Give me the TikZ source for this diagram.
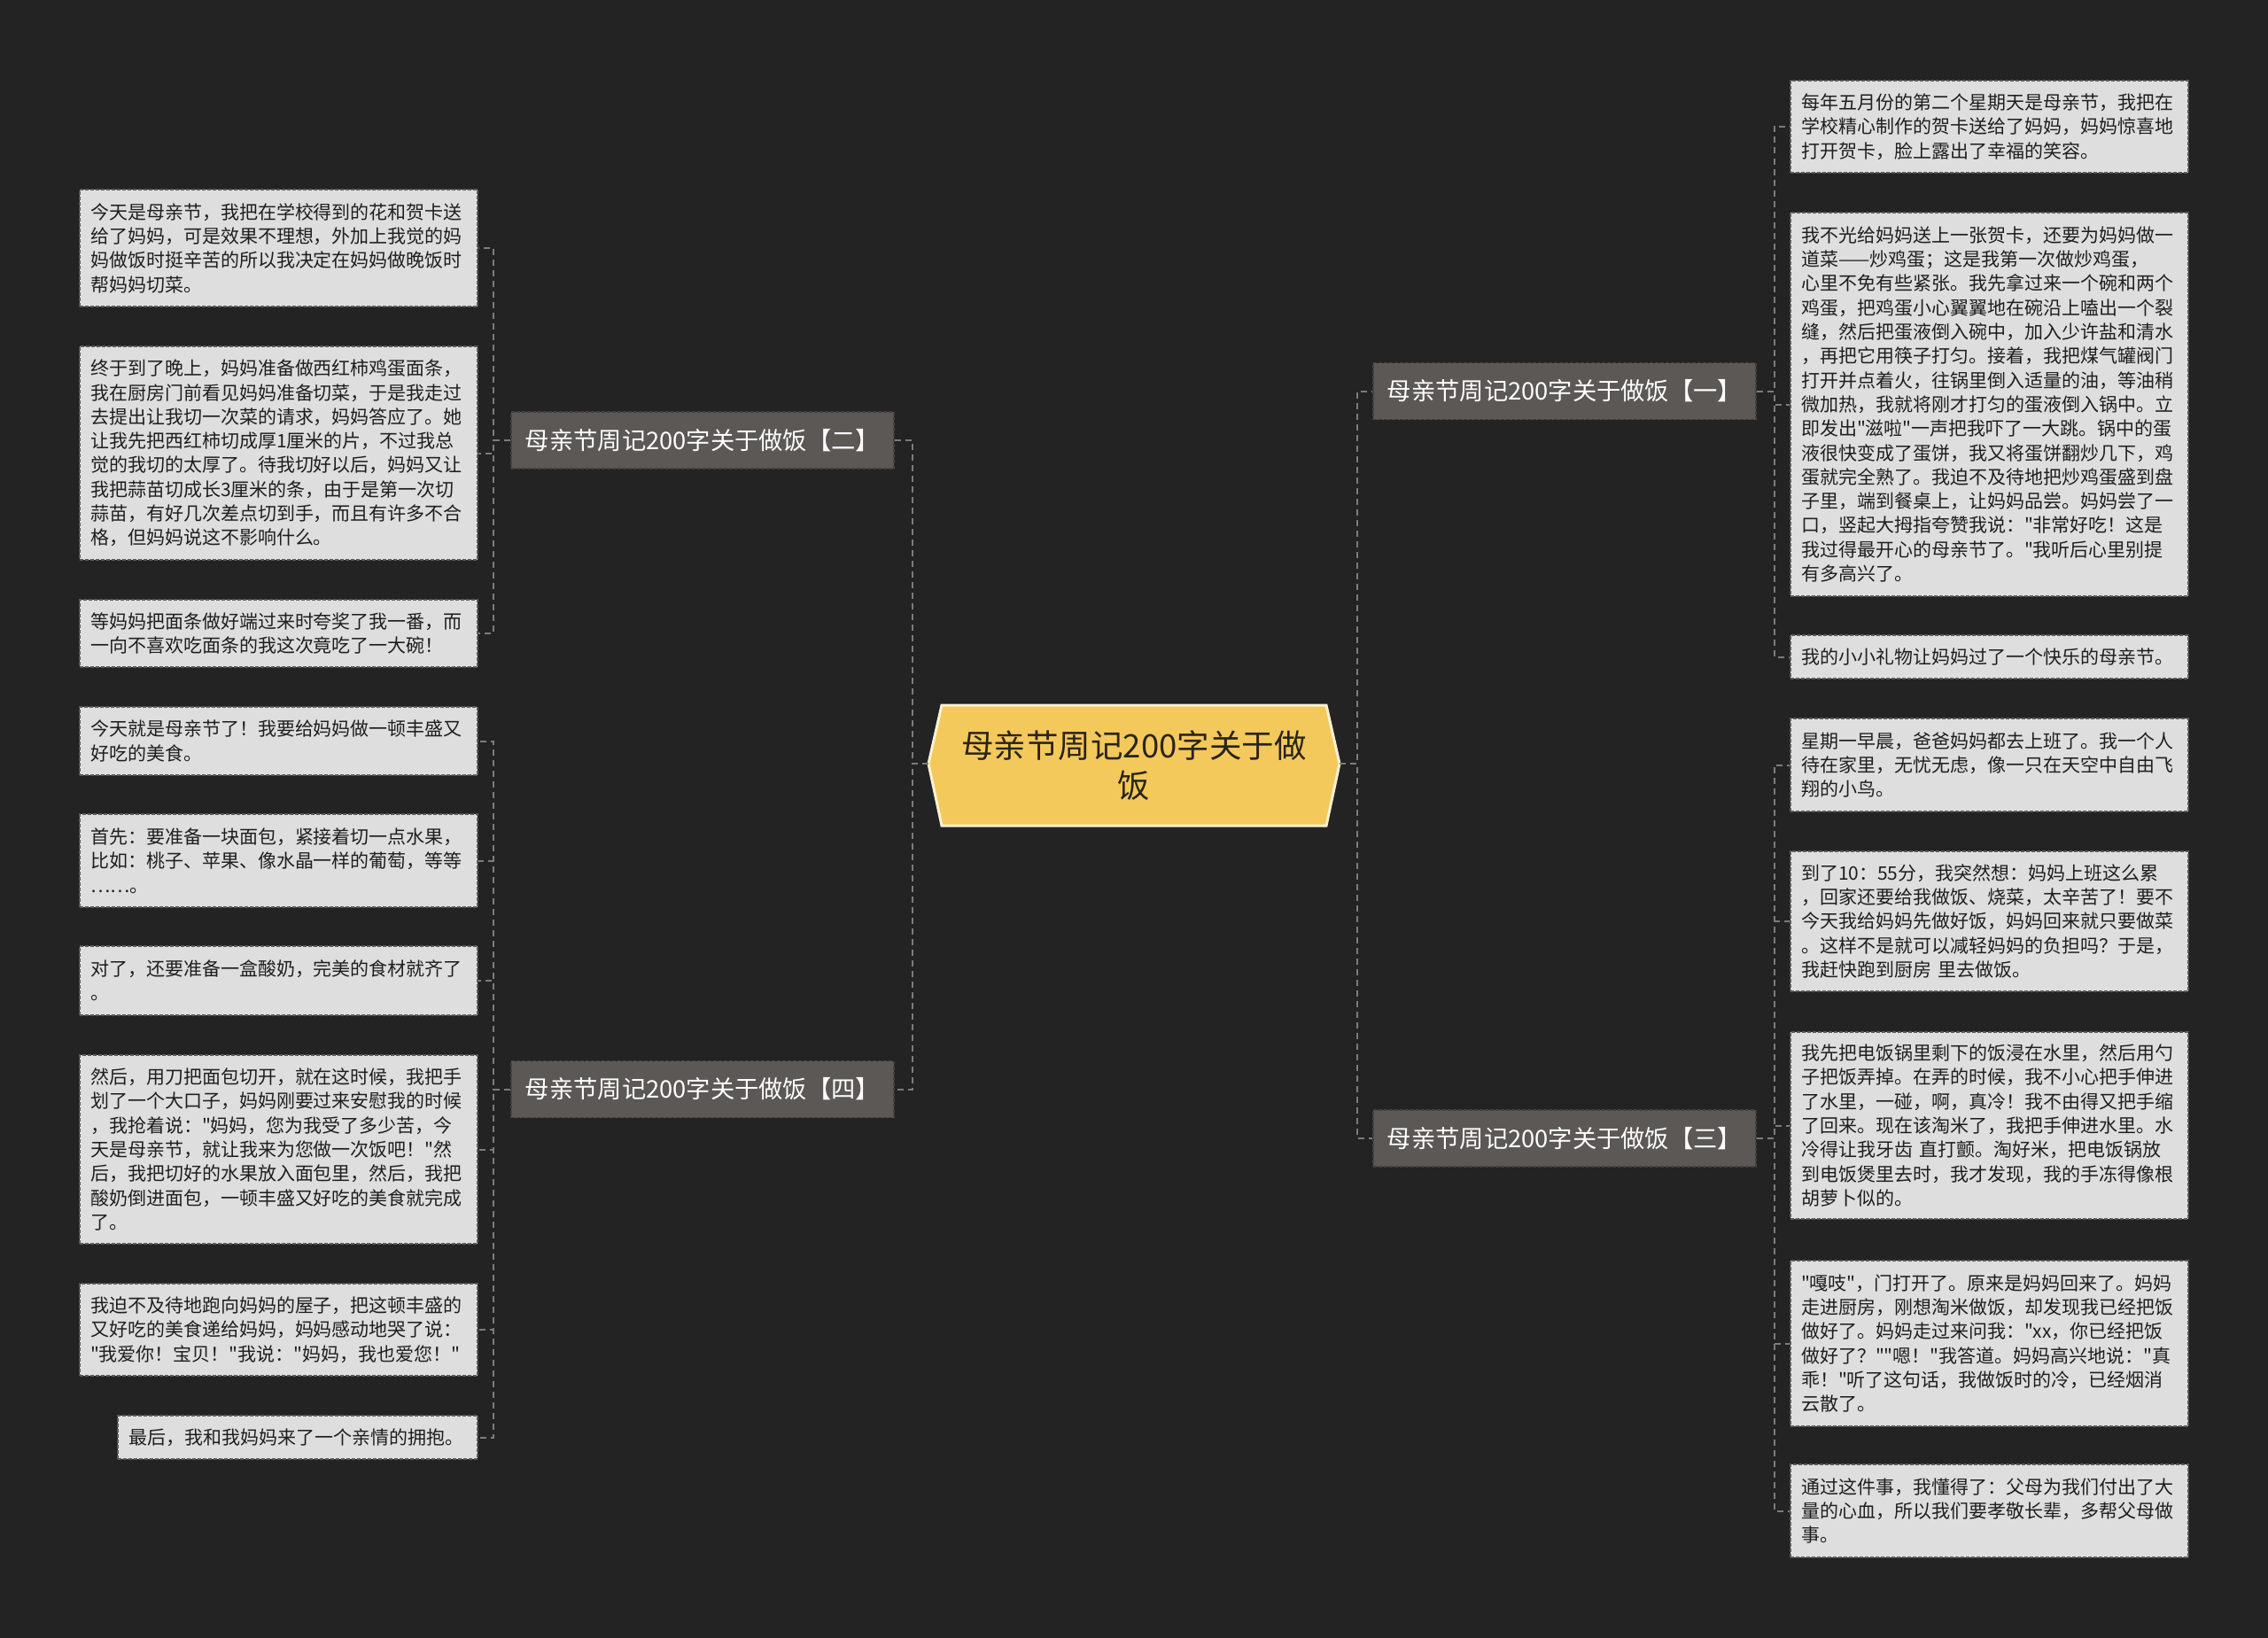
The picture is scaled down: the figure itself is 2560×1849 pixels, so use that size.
\documentclass[tikz,border=0pt]{standalone}
\usepackage{fontspec}
\setmainfont{Noto Sans CJK SC}
\newfontfamily\cjkplain{Noto Sans CJK SC}
\definecolor{bg}{HTML}{232323}
\definecolor{leaffill}{HTML}{DEDEDE}
\definecolor{leafline}{HTML}{5A5A5A}
\definecolor{brfill}{HTML}{5B5856}
\definecolor{brline}{HTML}{434040}
\definecolor{rootfill}{HTML}{F3C95C}
\definecolor{rootline}{HTML}{FBF1D3}
\definecolor{edgecol}{HTML}{7C7C7C}
\definecolor{leaftext}{HTML}{1E1E1E}
\definecolor{roottext}{HTML}{2A2418}
\tikzset{
  leaf/.style={draw=leafline, fill=leaffill, line width=1.3pt, dash pattern=on 4pt off 2pt,
    text width=425pt, align=left, inner xsep=12pt, inner ysep=0pt, anchor=center,
    font=\cjkplain\fontsize{21}{27.3}\selectfont, text=leaftext},
  branch/.style={draw=brline, fill=brfill, line width=1.3pt, dash pattern=on 4pt off 2pt,
    minimum width=432pt, minimum height=64pt, text=white, inner sep=0pt,
    font=\cjkplain\fontsize{27.3}{32}\selectfont},
  conn/.style={draw=edgecol, line width=2pt, dash pattern=on 7pt off 5pt},
}
\begin{document}
\begin{tikzpicture}[x=1pt,y=-1pt]
\useasboundingbox (0,0) rectangle (2560,1849);
\fill[bg] (0,0) rectangle (2560,1849);

% root
\draw[fill=rootfill, draw=rootline, line width=3pt] (1048,862) -- (1063,796) -- (1497,796) -- (1512,862) -- (1497,932) -- (1063,932) -- cycle;
\node[align=center, font=\cjkplain\fontsize{36.5}{45}\selectfont, text=roottext, inner sep=0pt] (root) at (1280,864) {母亲节周记200字关于做\\饭};
\coordinate (rootL) at (1048,862);
\coordinate (rootR) at (1512,862);

% branches
\node[branch] (b1) at (1766,441.5) {母亲节周记200字关于做饭【一】};
\node[branch] (b2) at (793,497) {母亲节周记200字关于做饭【二】};
\node[branch] (b3) at (1766,1285) {母亲节周记200字关于做饭【三】};
\node[branch] (b4) at (793,1229.5) {母亲节周记200字关于做饭【四】};

% left leaves, branch 二
\node[leaf, minimum height=132pt] (L1) at (314.5,280) {今天是母亲节，我把在学校得到的花和贺卡送\\给了妈妈，可是效果不理想，外加上我觉的妈\\妈做饭时挺辛苦的所以我决定在妈妈做晚饭时\\帮妈妈切菜。};
\node[leaf, minimum height=241pt] (L2) at (314.5,511.5) {终于到了晚上，妈妈准备做西红柿鸡蛋面条，\\我在厨房门前看见妈妈准备切菜，于是我走过\\去提出让我切一次菜的请求，妈妈答应了。她\\让我先把西红柿切成厚1厘米的片，不过我总\\觉的我切的太厚了。待我切好以后，妈妈又让\\我把蒜苗切成长3厘米的条，由于是第一次切\\蒜苗，有好几次差点切到手，而且有许多不合\\格，但妈妈说这不影响什么。};
\node[leaf, minimum height=76pt] (L3) at (314.5,715) {等妈妈把面条做好端过来时夸奖了我一番，而\\一向不喜欢吃面条的我这次竟吃了一大碗！};

% left leaves, branch 四
\node[leaf, minimum height=77pt] (L4) at (314.5,836.5) {今天就是母亲节了！我要给妈妈做一顿丰盛又\\好吃的美食。};
\node[leaf, minimum height=105pt] (L5) at (314.5,971.5) {首先：要准备一块面包，紧接着切一点水果，\\比如：桃子、苹果、像水晶一样的葡萄，等等\\……。};
\node[leaf, minimum height=78pt] (L6) at (314.5,1107) {对了，还要准备一盒酸奶，完美的食材就齐了\\。};
\node[leaf, minimum height=213pt] (L7) at (314.5,1297.5) {然后，用刀把面包切开，就在这时候，我把手\\划了一个大口子，妈妈刚要过来安慰我的时候\\，我抢着说："妈妈，您为我受了多少苦，今\\天是母亲节，就让我来为您做一次饭吧！"然\\后，我把切好的水果放入面包里，然后，我把\\酸奶倒进面包，一顿丰盛又好吃的美食就完成\\了。};
\node[leaf, minimum height=104pt] (L8) at (314.5,1501) {我迫不及待地跑向妈妈的屋子，把这顿丰盛的\\又好吃的美食递给妈妈，妈妈感动地哭了说：\\"我爱你！宝贝！"我说："妈妈，我也爱您！"};
\node[leaf, minimum height=49pt, text width=382pt] (L9) at (336,1622.5) {最后，我和我妈妈来了一个亲情的拥抱。};

% right leaves, branch 一
\node[leaf, minimum height=104pt] (R1) at (2245.5,143) {每年五月份的第二个星期天是母亲节，我把在\\学校精心制作的贺卡送给了妈妈，妈妈惊喜地\\打开贺卡，脸上露出了幸福的笑容。};
\node[leaf, minimum height=433pt] (R2) at (2245.5,456.5) {我不光给妈妈送上一张贺卡，还要为妈妈做一\\道菜——炒鸡蛋；这是我第一次做炒鸡蛋，\\心里不免有些紧张。我先拿过来一个碗和两个\\鸡蛋，把鸡蛋小心翼翼地在碗沿上嗑出一个裂\\缝，然后把蛋液倒入碗中，加入少许盐和清水\\，再把它用筷子打匀。接着，我把煤气罐阀门\\打开并点着火，往锅里倒入适量的油，等油稍\\微加热，我就将刚才打匀的蛋液倒入锅中。立\\即发出"滋啦"一声把我吓了一大跳。锅中的蛋\\液很快变成了蛋饼，我又将蛋饼翻炒几下，鸡\\蛋就完全熟了。我迫不及待地把炒鸡蛋盛到盘\\子里，端到餐桌上，让妈妈品尝。妈妈尝了一\\口，竖起大拇指夸赞我说："非常好吃！这是\\我过得最开心的母亲节了。"我听后心里别提\\有多高兴了。};
\node[leaf, minimum height=49pt] (R3) at (2245.5,741.5) {我的小小礼物让妈妈过了一个快乐的母亲节。};

% right leaves, branch 三
\node[leaf, minimum height=105pt] (R4) at (2245.5,863.5) {星期一早晨，爸爸妈妈都去上班了。我一个人\\待在家里，无忧无虑，像一只在天空中自由飞\\翔的小鸟。};
\node[leaf, minimum height=158pt] (R5) at (2245.5,1040) {到了10：55分，我突然想：妈妈上班这么累\\，回家还要给我做饭、烧菜，太辛苦了！要不\\今天我给妈妈先做好饭，妈妈回来就只要做菜\\。这样不是就可以减轻妈妈的负担吗？于是，\\我赶快跑到厨房 里去做饭。};
\node[leaf, minimum height=211pt] (R6) at (2245.5,1270.5) {我先把电饭锅里剩下的饭浸在水里，然后用勺\\子把饭弄掉。在弄的时候，我不小心把手伸进\\了水里，一碰，啊，真冷！我不由得又把手缩\\了回来。现在该淘米了，我把手伸进水里。水\\冷得让我牙齿 直打颤。淘好米，把电饭锅放\\到电饭煲里去时，我才发现，我的手冻得像根\\胡萝卜似的。};
\node[leaf, minimum height=187pt] (R7) at (2245.5,1516.5) {"嘎吱"，门打开了。原来是妈妈回来了。妈妈\\走进厨房，刚想淘米做饭，却发现我已经把饭\\做好了。妈妈走过来问我："xx，你已经把饭\\做好了？""嗯！"我答道。妈妈高兴地说："真\\乖！"听了这句话，我做饭时的冷，已经烟消\\云散了。};
\node[leaf, minimum height=105pt] (R8) at (2245.5,1705.5) {通过这件事，我懂得了：父母为我们付出了大\\量的心血，所以我们要孝敬长辈，多帮父母做\\事。};

% connectors root -> branches
\draw[conn] (rootL) -- ++(-18,0) |- (b2.east);
\draw[conn] (rootL) -- ++(-18,0) |- (b4.east);
\draw[conn] (rootR) -- ++(20,0) |- (b1.west);
\draw[conn] (rootR) -- ++(20,0) |- (b3.west);

% branches -> leaves
\foreach \n in {L1,L2,L3} \draw[conn] (b2.west) -- ++(-19,0) |- (\n.east);
\foreach \n in {L4,L5,L6,L7,L8,L9} \draw[conn] (b4.west) -- ++(-19,0) |- (\n.east);
\foreach \n in {R1,R2,R3} \draw[conn] (b1.east) -- ++(20,0) |- (\n.west);
\foreach \n in {R4,R5,R6,R7,R8} \draw[conn] (b3.east) -- ++(20,0) |- (\n.west);
\end{tikzpicture}
\end{document}
